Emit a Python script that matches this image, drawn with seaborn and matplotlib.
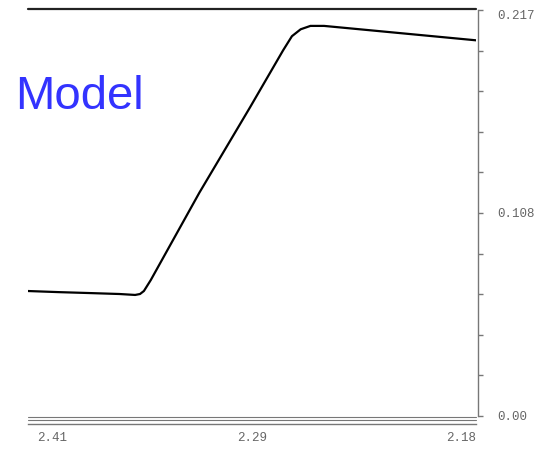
import numpy as np
import pandas as pd
import matplotlib
matplotlib.use("Agg")
import matplotlib.pyplot as plt
import matplotlib.transforms as mtrans
import seaborn as sns

# curve (x axis runs from 2.41 down to 2.18)
x_vals = [2.410, 2.394, 2.378, 2.363, 2.355, 2.3525, 2.3505, 2.347, 2.322,
          2.296, 2.279, 2.2745, 2.270, 2.265, 2.258, 2.180]
y_vals = [0.0668, 0.0662, 0.0657, 0.0652, 0.0647, 0.0652, 0.0668, 0.0726,
          0.1194, 0.1650, 0.1955, 0.2030, 0.2067, 0.2085, 0.2085, 0.2008]

x_ticks = list(np.linspace(2.41, 2.18, 11))
x_tick_labels = ["2.41", "", "", "", "", "2.29", "", "", "", "", "2.18"]
y_ticks = list(np.linspace(0, 0.217, 11))
y_tick_labels = ["0.00", "", "", "", "", "0.108", "", "", "", "", "0.217"]

df = pd.DataFrame({"x": x_vals, "y": y_vals})

sns.set_style("white")
plt.rcParams["font.family"] = ["Liberation Mono", "DejaVu Sans"]

gray = "#777777"
fig = plt.figure(figsize=(5.42, 4.5), dpi=100)
ax = fig.add_axes([28 / 542, 34 / 450, 448 / 542, 406 / 450])

sns.lineplot(data=df, x="x", y="y", ax=ax, color="black", lw=1.6, sort=False)
ax.set_xlim(2.41, 2.18)
ax.set_ylim(0, 0.217)
ax.set_xlabel("")
ax.set_ylabel("")

for s in ["left", "top"]:
    ax.spines[s].set_visible(False)
ax.spines["right"].set_position(("outward", 1.5))
ax.spines["bottom"].set_position(("outward", 5.8))
for s in ["right", "bottom"]:
    ax.spines[s].set_color(gray)
    ax.spines[s].set_linewidth(1)

# frame lines above and below the curve
ax.axhline(0.2177, color="#222222", lw=1.6, clip_on=False)
ax.axhline(-0.0007, color=gray, lw=0.8, clip_on=False)
ax.axhline(-0.0019, color=gray, lw=0.8, clip_on=False)

ax.yaxis.tick_right()
ax.set_yticks(y_ticks, y_tick_labels)
ax.tick_params(axis="y", direction="out", length=3.6, width=1, color=gray,
               pad=10, labelsize=9, labelcolor="#666666")
ylabs = ax.get_yticklabels()
ylabs[-1].set_va("top")

ax.set_xticks(x_ticks, x_tick_labels)
ax.set_xticks([2.41, 2.18], minor=True)
ax.xaxis.remove_overlapping_locs = False
ax.tick_params(axis="x", which="major", direction="out", length=3, width=1,
               color=gray, pad=2.5, labelsize=9, labelcolor="#666666")
ax.tick_params(axis="x", which="minor", direction="out", length=6, width=1,
               color=gray)
xlabs = ax.get_xticklabels()
xlabs[0].set_ha("left")
xlabs[0].set_transform(xlabs[0].get_transform()
                       + mtrans.ScaledTranslation(9 / 100, 0, fig.dpi_scale_trans))
xlabs[-1].set_ha("right")

fig.text(15 / 542, 1 - 109 / 450, "Model", fontsize=34, color="#3333ff",
         family=["Liberation Sans", "DejaVu Sans"], va="baseline")

fig.savefig("out.png", dpi=100)
